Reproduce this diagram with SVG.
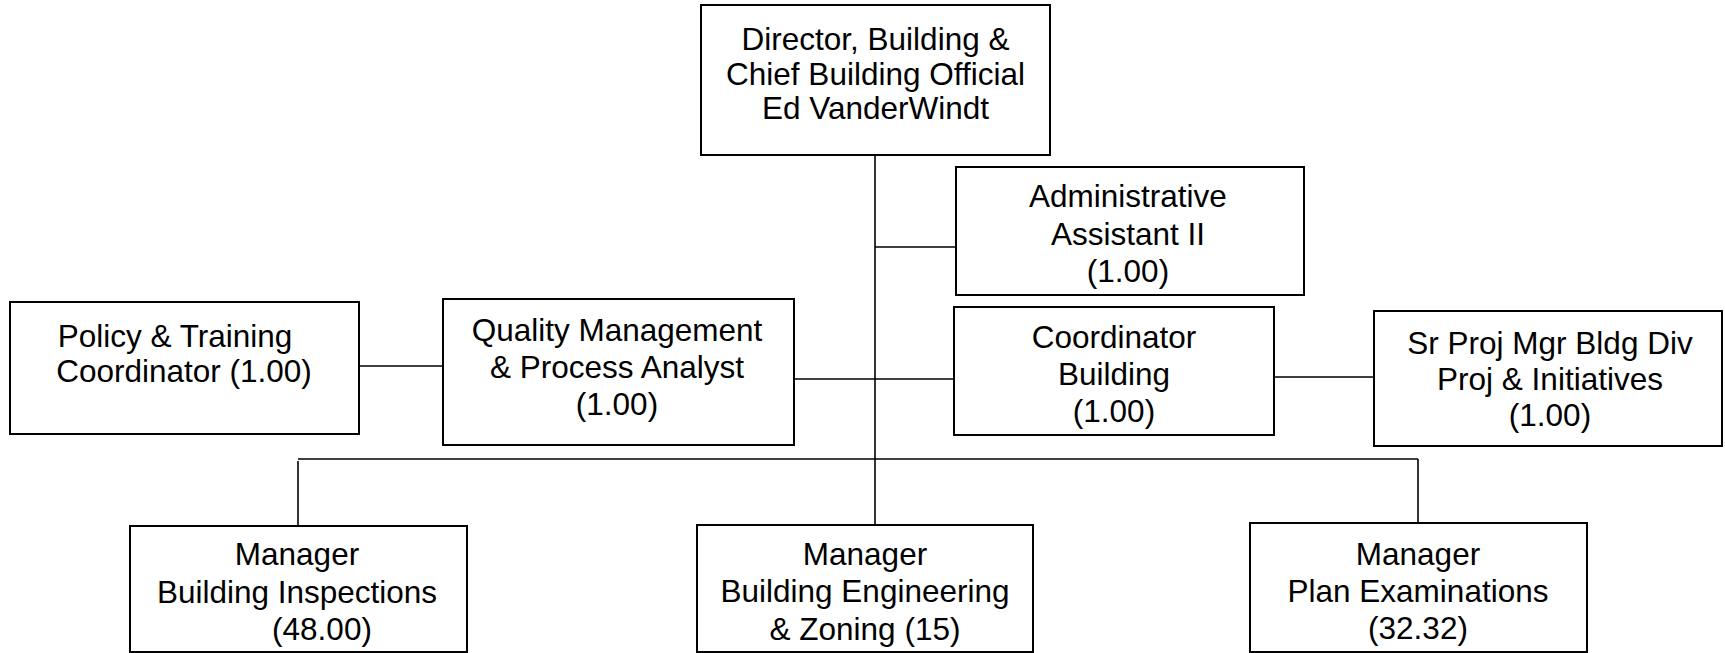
<svg xmlns="http://www.w3.org/2000/svg" width="1725" height="653" viewBox="0 0 1725 653">
<style>
.box{fill:#fff;stroke:#000;stroke-width:2}
.ln{stroke:#000;stroke-width:1.6;fill:none}
text{font-family:"Liberation Sans",Arial,sans-serif;font-size:31.5px;fill:#000;text-anchor:middle}
</style>
<rect width="1725" height="653" fill="#fff"/>
<g id="connectors">
<line class="ln" x1="875" y1="155" x2="875" y2="525"/>
<line class="ln" x1="875" y1="247" x2="955" y2="247"/>
<line class="ln" x1="794" y1="379" x2="954" y2="379"/>
<line class="ln" x1="359" y1="366" x2="443" y2="366"/>
<line class="ln" x1="1274" y1="377" x2="1374" y2="377"/>
<line class="ln" x1="298" y1="459" x2="1418" y2="459"/>
<line class="ln" x1="298" y1="461" x2="298" y2="526"/>
<line class="ln" x1="1418" y1="459" x2="1418" y2="523"/>
</g>
<g id="director">
<rect class="box" x="701" y="5" width="349" height="150"/>
<text x="875.5" y="50">Director, Building &amp;</text>
<text x="875.5" y="85">Chief Building Official</text>
<text x="875.5" y="119">Ed VanderWindt</text>
</g>
<g id="admin">
<rect class="box" x="956" y="167" width="348" height="128"/>
<text x="1128" y="207">Administrative</text>
<text x="1128" y="245">Assistant II</text>
<text x="1128" y="282">(1.00)</text>
</g>
<g id="policy">
<rect class="box" x="10" y="302" width="349" height="132"/>
<text x="175" y="347">Policy &amp; Training</text>
<text x="184" y="382">Coordinator (1.00)</text>
</g>
<g id="quality">
<rect class="box" x="443" y="299" width="351" height="146"/>
<text x="617" y="341">Quality Management</text>
<text x="617" y="378">&amp; Process Analyst</text>
<text x="617" y="415">(1.00)</text>
</g>
<g id="coordinator">
<rect class="box" x="954" y="307" width="320" height="128"/>
<text x="1114" y="348">Coordinator</text>
<text x="1114" y="385">Building</text>
<text x="1114" y="422">(1.00)</text>
</g>
<g id="srproj">
<rect class="box" x="1374" y="311" width="348" height="135"/>
<text x="1550" y="354">Sr Proj Mgr Bldg Div</text>
<text x="1550" y="390">Proj &amp; Initiatives</text>
<text x="1550" y="426">(1.00)</text>
</g>
<g id="mgr-inspections">
<rect class="box" x="130" y="526" width="337" height="126"/>
<text x="297" y="565">Manager</text>
<text x="297" y="603">Building Inspections</text>
<text x="322" y="640">(48.00)</text>
</g>
<g id="mgr-engineering">
<rect class="box" x="697" y="525" width="336" height="127"/>
<text x="865" y="565">Manager</text>
<text x="865" y="602">Building Engineering</text>
<text x="865" y="640">&amp; Zoning (15)</text>
</g>
<g id="mgr-plan">
<rect class="box" x="1250" y="523" width="337" height="129"/>
<text x="1418" y="565">Manager</text>
<text x="1418" y="602">Plan Examinations</text>
<text x="1418" y="639">(32.32)</text>
</g>
</svg>
